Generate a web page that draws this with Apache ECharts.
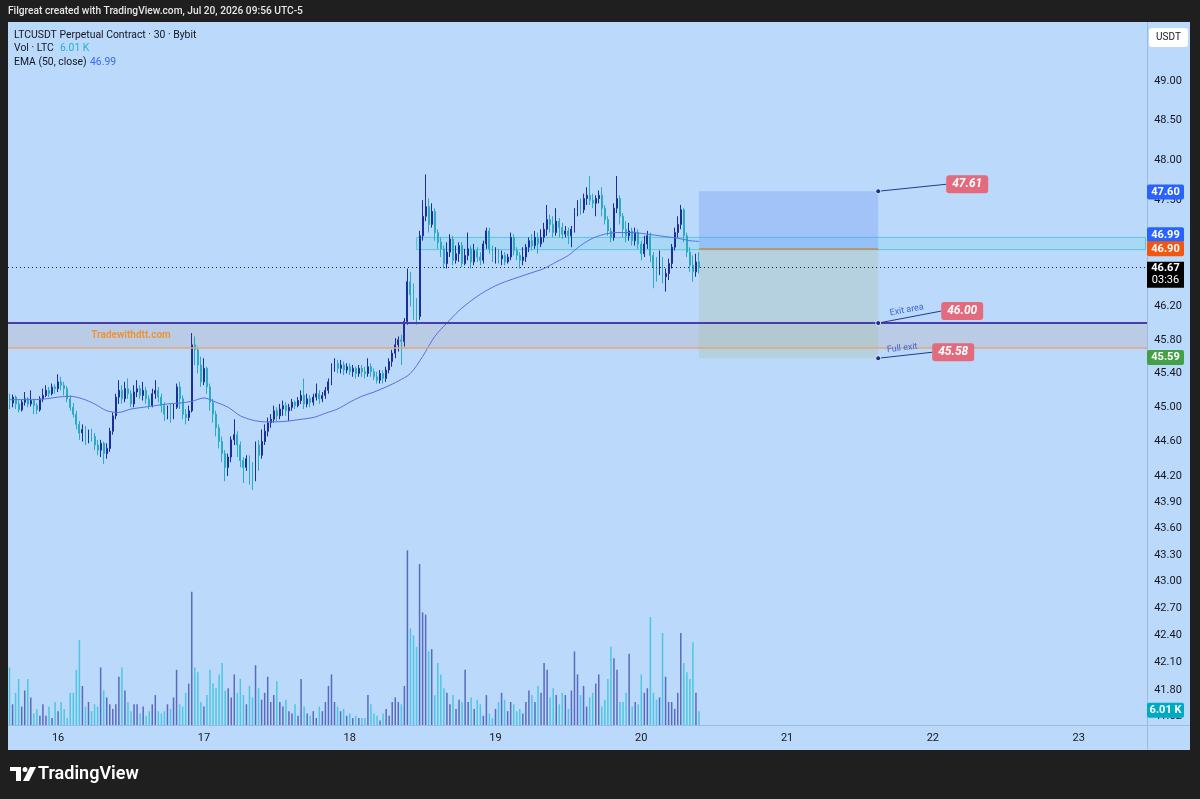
<!DOCTYPE html>
<html>
<head>
<meta charset="UTF-8">
<title>LTCUSDT Perpetual Contract 30 Bybit</title>
<script src="https://cdn.jsdelivr.net/npm/echarts@6/dist/echarts.min.js"></script>
<style>
html, body { margin: 0; padding: 0; background: #1f1f1f; }
#main { width: 1200px; height: 799px; }
</style>
</head>
<body>
<div id="main"></div>
<script>
// 30 minute bars, first bar Jul 15 16:00, last bar Jul 20 09:30
var firstBar = Date.UTC(2026, 6, 15, 16, 0);
var slotCount = 375; // bars + empty space on the right up to the 23rd

// [open, close, low, high]
var candles = [
  [45.10,45.05,44.98,45.16],[45.05,45.12,45.00,45.15],[45.12,45.04,44.98,45.14],[45.04,44.97,44.94,45.08],
  [44.97,45.06,44.95,45.09],[45.06,45.10,45.02,45.18],[45.10,45.04,45.00,45.12],[45.04,45.08,45.01,45.20],
  [45.08,45.02,44.92,45.10],[45.02,44.97,44.92,45.05],[44.97,45.10,44.95,45.13],[45.10,45.14,45.06,45.22],
  [45.14,45.20,45.12,45.26],[45.20,45.16,45.12,45.24],[45.16,45.24,45.14,45.28],[45.24,45.22,45.16,45.27],
  [45.22,45.30,45.18,45.39],[45.30,45.26,45.20,45.36],[45.26,45.22,45.14,45.30],[45.22,45.10,45.06,45.25],
  [45.10,45.00,44.96,45.14],[45.00,44.92,44.88,45.05],[44.92,44.80,44.74,44.96],[44.80,44.70,44.62,44.84],
  [44.70,44.74,44.60,44.80],[44.74,44.62,44.56,44.78],[44.62,44.70,44.58,44.74],[44.70,44.66,44.60,44.75],
  [44.66,44.56,44.50,44.70],[44.56,44.50,44.44,44.62],[44.50,44.58,44.42,44.62],[44.58,44.46,44.34,44.60],
  [44.46,44.52,44.40,44.58],[44.52,44.72,44.48,44.76],[44.72,44.90,44.68,44.94],[44.90,45.12,44.86,45.16],
  [45.12,45.20,45.04,45.32],[45.20,45.10,45.04,45.26],[45.10,45.22,45.06,45.30],[45.22,45.16,45.10,45.34],
  [45.16,45.04,45.00,45.20],[45.04,45.18,45.00,45.26],[45.18,45.22,45.12,45.32],[45.22,45.14,45.10,45.26],
  [45.14,45.20,45.08,45.30],[45.20,45.10,45.04,45.24],[45.10,45.02,44.98,45.14],[45.02,45.16,45.00,45.22],
  [45.16,45.20,45.10,45.32],[45.20,45.12,45.06,45.24],[45.12,45.02,44.94,45.16],[45.02,44.92,44.84,45.06],
  [44.92,44.98,44.86,45.02],[44.98,44.90,44.82,45.04],[44.90,45.00,44.86,45.04],[45.00,45.24,44.98,45.28],
  [45.24,45.10,44.98,45.30],[45.10,44.92,44.86,45.14],[44.92,44.88,44.80,44.98],[44.88,44.96,44.84,45.02],
  [44.96,45.74,44.94,45.88],[45.74,45.68,45.50,45.84],[45.68,45.50,45.40,45.72],[45.50,45.30,45.24,45.60],
  [45.30,45.46,45.26,45.58],[45.46,45.24,45.16,45.48],[45.24,45.06,44.96,45.28],[45.06,44.92,44.82,45.10],
  [44.92,44.76,44.66,44.96],[44.76,44.60,44.52,44.80],[44.60,44.46,44.36,44.66],[44.46,44.30,44.14,44.50],
  [44.30,44.42,44.20,44.46],[44.42,44.62,44.36,44.66],[44.62,44.68,44.56,44.86],[44.68,44.56,44.42,44.72],
  [44.56,44.38,44.30,44.60],[44.38,44.30,44.12,44.42],[44.30,44.40,44.26,44.44],[44.40,44.32,44.10,44.44],
  [44.32,44.20,44.04,44.36],[44.20,44.56,44.14,44.60],[44.56,44.44,44.26,44.62],[44.44,44.60,44.40,44.74],
  [44.60,44.72,44.56,44.80],[44.72,44.82,44.66,44.88],[44.82,44.86,44.76,44.92],[44.86,44.96,44.82,45.02],
  [44.96,44.90,44.84,45.00],[44.90,44.98,44.86,45.04],[44.98,45.02,44.90,45.08],[45.02,44.96,44.90,45.06],
  [44.96,45.00,44.84,45.04],[45.00,45.06,44.96,45.10],[45.06,45.02,44.98,45.08],[45.02,45.08,45.00,45.12],
  [45.08,45.14,45.04,45.20],[45.14,45.04,44.98,45.34],[45.04,45.10,45.00,45.16],[45.10,45.06,45.00,45.14],
  [45.06,45.12,45.02,45.16],[45.12,45.16,45.08,45.28],[45.16,45.10,45.04,45.20],[45.10,45.14,45.06,45.18],
  [45.14,45.20,45.10,45.24],[45.20,45.30,45.16,45.34],[45.30,45.48,45.26,45.52],[45.48,45.52,45.42,45.58],
  [45.52,45.46,45.40,45.56],[45.46,45.50,45.40,45.56],[45.50,45.44,45.38,45.54],[45.44,45.48,45.40,45.52],
  [45.48,45.42,45.38,45.52],[45.42,45.46,45.36,45.50],[45.46,45.40,45.34,45.48],[45.40,45.46,45.36,45.50],
  [45.46,45.42,45.36,45.50],[45.42,45.40,45.34,45.48],[45.40,45.48,45.36,45.58],[45.48,45.42,45.36,45.52],
  [45.42,45.36,45.32,45.46],[45.36,45.32,45.28,45.42],[45.32,45.40,45.28,45.44],[45.40,45.34,45.28,45.44],
  [45.34,45.44,45.30,45.48],[45.44,45.54,45.40,45.58],[45.54,45.64,45.48,45.68],[45.64,45.74,45.58,45.82],
  [45.74,45.80,45.66,45.84],[45.80,45.78,45.50,45.86],[45.78,46.02,45.72,46.06],[46.02,46.50,45.98,46.66],
  [46.50,46.34,46.20,46.62],[46.34,46.22,46.04,46.48],[46.22,46.08,45.98,46.30],[46.08,47.06,46.04,47.12],
  [47.06,47.30,47.00,47.50],[47.30,47.42,47.24,47.82],[47.42,47.20,47.10,47.52],[47.20,47.36,47.16,47.46],
  [47.36,47.10,47.00,47.40],[47.10,46.98,46.90,47.14],[46.98,46.90,46.80,47.04],[46.90,46.72,46.66,46.94],
  [46.72,46.86,46.66,46.98],[46.86,47.02,46.80,47.08],[47.02,46.76,46.70,47.06],[46.76,46.84,46.72,46.94],
  [46.84,46.94,46.74,46.98],[46.94,46.72,46.68,46.98],[46.72,46.82,46.70,46.90],[46.82,46.90,46.76,47.10],
  [46.90,46.74,46.66,46.94],[46.74,46.88,46.70,46.96],[46.88,46.80,46.74,46.92],[46.80,46.76,46.70,46.86],
  [46.76,46.96,46.72,47.00],[46.96,47.12,46.90,47.16],[47.12,46.90,46.84,47.16],[46.90,46.82,46.74,46.94],
  [46.82,46.86,46.72,46.92],[46.86,46.78,46.72,46.90],[46.78,46.82,46.70,46.88],[46.82,46.74,46.70,46.86],
  [46.74,46.80,46.72,46.84],[46.80,47.04,46.76,47.10],[47.04,46.88,46.82,47.08],[46.88,46.82,46.76,46.92],
  [46.82,46.76,46.66,46.86],[46.76,46.80,46.70,46.92],[46.80,46.92,46.74,46.96],[46.92,47.00,46.86,47.04],
  [47.00,46.94,46.88,47.08],[46.94,47.04,46.90,47.12],[47.04,46.96,46.84,47.10],[46.96,47.04,46.92,47.14],
  [47.04,47.14,46.98,47.22],[47.14,47.26,47.06,47.44],[47.26,47.20,47.10,47.32],[47.20,47.10,47.04,47.30],
  [47.10,47.24,47.06,47.40],[47.24,47.16,47.04,47.28],[47.16,47.08,47.02,47.22],[47.08,47.12,47.04,47.18],
  [47.12,47.06,46.96,47.16],[47.06,47.14,46.92,47.18],[47.14,47.36,47.10,47.40],[47.36,47.44,47.30,47.50],
  [47.44,47.38,47.32,47.52],[47.38,47.52,47.34,47.58],[47.52,47.56,47.44,47.66],[47.56,47.50,47.44,47.80],
  [47.50,47.46,47.40,47.58],[47.46,47.52,47.30,47.56],[47.52,47.56,47.46,47.62],[47.56,47.40,47.30,47.66],
  [47.40,47.26,47.20,47.44],[47.26,47.12,47.06,47.30],[47.12,47.04,46.98,47.16],[47.04,47.40,47.00,47.46],
  [47.40,47.52,47.34,47.80],[47.52,47.30,47.20,47.56],[47.30,47.14,47.04,47.34],[47.14,47.06,46.98,47.24],
  [47.06,47.12,47.00,47.22],[47.12,47.00,46.94,47.16],[47.00,47.10,46.94,47.16],[47.10,46.96,46.90,47.14],
  [46.96,46.84,46.76,47.00],[46.84,46.96,46.80,47.06],[46.96,47.06,46.90,47.12],[47.06,46.82,46.74,47.10],
  [46.82,46.68,46.42,46.86],[46.68,46.62,46.50,46.80],[46.62,46.76,46.58,46.88],[46.76,46.56,46.48,46.80],
  [46.56,46.60,46.38,46.66],[46.60,46.72,46.52,46.78],[46.72,46.92,46.66,46.96],[46.92,47.10,46.88,47.16],
  [47.10,47.20,47.04,47.30],[47.20,47.38,47.14,47.44],[47.38,47.06,46.98,47.40],[47.06,46.86,46.80,47.10],
  [46.86,46.70,46.62,46.92],[46.70,46.62,46.50,46.82],[46.62,46.74,46.56,46.84],[46.74,46.67,46.60,46.86]
];

// volume in thousands of LTC
var volumes = [
  25,9,14,20,8,15,20,12,5,7,4,9,4,8,3,10,6,10,7,3,14,14,24,37,17,8,10,6,9,8,
  25,15,12,9,7,9,21,25,15,10,6,9,9,5,8,4,6,9,13,6,5,6,9,7,12,24,9,8,14,18,
  58,25,23,10,8,13,24,18,16,22,27,15,16,12,22,14,20,13,9,17,12,26,16,11,14,21,10,13,19,10,
  8,11,6,5,9,4,20,8,5,4,6,3,8,6,10,17,22,10,8,6,7,4,5,3,4,3,3,3,13,9,
  5,4,2,5,7,4,10,12,10,9,17,76,42,39,34,70,49,48,32,33,13,27,22,16,14,9,13,7,11,10,
  24,10,12,7,11,9,4,13,5,3,7,10,14,11,6,10,9,6,7,5,10,15,13,10,17,14,27,24,12,16,
  13,9,14,13,7,15,32,22,13,17,8,12,14,18,22,8,11,20,34,29,24,10,10,14,31,8,10,9,22,14,
  16,47,14,11,12,40,21,10,10,7,14,40,27,23,20,36,14,6.01
];

// EMA(50, close) every few bars
var emaBars = [0,4,8,12,16,20,24,28,32,36,40,44,48,52,56,60,64,68,72,76,80,84,88,92,96,100,104,108,112,116,
  120,124,128,132,136,140,144,148,152,156,160,164,168,172,176,180,184,188,192,196,200,204,208,212,216,220,224,227];
var emaValues = [45.09,45.09,45.09,45.10,45.12,45.13,45.10,45.04,44.96,44.94,44.98,45.00,45.02,45.04,45.05,45.07,45.11,45.06,45.00,44.90,
  44.85,44.83,44.83,44.84,44.86,44.88,44.93,44.98,45.06,45.13,45.18,45.24,45.31,45.40,45.60,45.84,46.00,46.15,46.27,46.37,
  46.45,46.51,46.56,46.61,46.66,46.74,46.82,46.94,47.03,47.08,47.10,47.10,47.09,47.07,47.05,47.03,47.00,46.99];

var priceTicks = [49.00,48.50,48.00,47.50,47.00,46.50,46.20,45.80,45.40,45.00,44.60,44.20,43.90,43.60,43.30,43.00,42.70,42.40,42.10,41.80,41.52];

// drawings
var exitLevel = 46.00;
var fullExitLine = 45.71;
var lastPrice = 46.67;
var zoneBox = [134, 47.04, 46.89];     // start bar, top, bottom
var position = { from: 227, to: 286, target: 47.61, entry: 46.90, stop: 45.58 };
var notePrices = [47.61, 46.00, 45.58];
var noteTexts = ['', 'Exit area', 'Full exit'];

var categories = [];
for (var i = 0; i < slotCount; i++) {
  var d = new Date(firstBar + i * 1800000);
  categories.push(d.toISOString().slice(0, 16).replace('T', ' '));
}

var upColor = '#1b2f9c', downColor = '#2aabc2';
var volData = volumes.map(function (v, i) {
  var up = candles[i][1] >= candles[i][0];
  return { value: v, itemStyle: { color: up ? '#5a69c0' : '#4cc6e2' } };
});
var emaData = emaBars.map(function (b, i) { return [b, emaValues[i]]; });

var chart = echarts.init(document.getElementById('main'));
var font = 'Roboto, "Noto Sans", sans-serif';

chart.setOption({
  animation: false,
  backgroundColor: '#1f1f1f',
  textStyle: { fontFamily: font },
  grid: [
    { left: 8, top: 22, width: 1139, height: 703 },
    { left: 8, top: 548, width: 1139, height: 177 }
  ],
  xAxis: [
    {
      type: 'category', gridIndex: 0, data: categories, boundaryGap: true,
      axisLine: { show: false }, axisTick: { show: false }, splitLine: { show: false },
      axisLabel: {
        color: '#131722', fontSize: 11, margin: 8,
        interval: function (idx, v) { return v.slice(11) === '00:00'; },
        formatter: function (v) { return String(parseInt(v.slice(8, 10), 10)); }
      }
    },
    { type: 'category', gridIndex: 1, data: categories, boundaryGap: true, show: false }
  ],
  yAxis: [
    {
      type: 'log', gridIndex: 0, min: 41.42, max: 49.76, position: 'right',
      axisLine: { show: false }, axisTick: { show: false }, axisLabel: { show: false }, splitLine: { show: false }
    },
    { type: 'value', gridIndex: 1, min: 0, max: 77, show: false, splitLine: { show: false } }
  ],
  series: [
    {
      type: 'bar', xAxisIndex: 1, yAxisIndex: 1, data: volData, barWidth: 1.5, z: 1
    },
    {
      type: 'candlestick', xAxisIndex: 0, yAxisIndex: 0, data: candles, barWidth: 1.4,
      itemStyle: { color: upColor, color0: downColor, borderColor: upColor, borderColor0: downColor, borderWidth: 1 }
    },
    {
      type: 'line', xAxisIndex: 0, yAxisIndex: 0, data: emaData, symbol: 'none', smooth: 0.3,
      lineStyle: { color: '#5570e6', width: 1 }, z: 3,
      markArea: {
        silent: true,
        data: [
          [{ yAxis: exitLevel, itemStyle: { color: 'rgba(185,180,190,0.35)' } }, { yAxis: fullExitLine }],
          [{ coord: [zoneBox[0], zoneBox[1]], itemStyle: { color: 'rgba(110,215,235,0.25)', borderColor: '#58c6dc', borderWidth: 1 } },
           { coord: [slotCount - 1, zoneBox[2]] }],
          [{ coord: [position.from, position.target], itemStyle: { color: 'rgba(105,150,245,0.32)' } },
           { coord: [position.to, position.entry] }],
          [{ coord: [position.from, position.entry], itemStyle: { color: 'rgba(170,195,180,0.38)' } },
           { coord: [position.to, position.stop] }]
        ]
      },
      markLine: {
        silent: true, symbol: ['none', 'none'], label: { show: false },
        data: [
          { yAxis: exitLevel, lineStyle: { color: '#4b3da8', width: 2, type: 'solid' } },
          { yAxis: fullExitLine, lineStyle: { color: '#e2a67a', width: 1.5, type: 'solid' } },
          { yAxis: lastPrice, lineStyle: { color: '#1c2130', width: 1, type: [1, 3] } },
          [{ coord: [position.from, position.entry], lineStyle: { color: '#c08a55', width: 1.5, type: 'solid' } },
           { coord: [position.to, position.entry] }]
        ]
      }
    }
  ]
});

function px(bar, price) { return chart.convertToPixel({ gridIndex: 0 }, [bar, price]); }
function yOf(price) { return px(0, price)[1]; }

var g = [];
// pane background, axis separators
g.push({ type: 'rect', z: 0, shape: { x: 8, y: 22, width: 1182, height: 728 }, style: { fill: '#bbd9fa' } });
g.push({ type: 'line', z: 0, shape: { x1: 1147.5, y1: 22, x2: 1147.5, y2: 750 }, style: { stroke: '#9dbbdc', lineWidth: 1 } });
g.push({ type: 'line', z: 0, shape: { x1: 8, y1: 725.5, x2: 1190, y2: 725.5 }, style: { stroke: '#9dbbdc', lineWidth: 1 } });

// header and legend
var small = '10.4px ' + font;
g.push({ type: 'text', z: 60, x: 8, y: 11, style: { text: 'Filgreat created with TradingView.com, Jul 20, 2026 09:56 UTC-5', fill: '#e6e6e6', font: '500 10.2px ' + font, textVerticalAlign: 'middle' } });
g.push({ type: 'text', z: 60, x: 14, y: 35, style: { text: 'LTCUSDT Perpetual Contract · 30 · Bybit', fill: '#131722', font: small, textVerticalAlign: 'middle' } });
g.push({ type: 'text', z: 60, x: 14, y: 48, style: { text: 'Vol · LTC', fill: '#131722', font: small, textVerticalAlign: 'middle' } });
g.push({ type: 'text', z: 60, x: 60, y: 48, style: { text: '6.01 K', fill: '#22b3c9', font: small, textVerticalAlign: 'middle' } });
g.push({ type: 'text', z: 60, x: 14, y: 62, style: { text: 'EMA (50, close)', fill: '#131722', font: small, textVerticalAlign: 'middle' } });
g.push({ type: 'text', z: 60, x: 90, y: 62, style: { text: '46.99', fill: '#3c68f0', font: small, textVerticalAlign: 'middle' } });
g.push({ type: 'text', z: 60, x: 131, y: (yOf(exitLevel) + yOf(fullExitLine)) / 2, style: { text: 'Tradewithdtt.com', fill: '#ee9438', font: 'bold 10px ' + font, textAlign: 'center', textVerticalAlign: 'middle' } });

// USDT button
g.push({ type: 'rect', z: 60, shape: { x: 1149, y: 28, width: 39, height: 19, r: 3 }, style: { fill: '#ffffff' } });
g.push({ type: 'text', z: 61, x: 1168.5, y: 37.5, style: { text: 'USDT', fill: '#131722', font: '10px ' + font, textAlign: 'center', textVerticalAlign: 'middle' } });

// price scale ticks
priceTicks.forEach(function (t) {
  g.push({ type: 'text', z: 50, x: 1168, y: yOf(t), style: { text: t.toFixed(2), fill: '#131722', font: '11px ' + font, textAlign: 'center', textVerticalAlign: 'middle' } });
});

// price scale tags (TradingView pushes overlapping tags apart)
function tag(y, text, color) {
  g.push({ type: 'rect', z: 70, shape: { x: 1147, y: y - 7.5, width: 37, height: 15, r: 2 }, style: { fill: color } });
  g.push({ type: 'text', z: 71, x: 1165.5, y: y, style: { text: text, fill: '#ffffff', font: 'bold 11px ' + font, textAlign: 'center', textVerticalAlign: 'middle' } });
}
var entryY = yOf(46.90);
tag(yOf(47.60), '47.60', '#2962ff');
tag(Math.min(yOf(46.99), entryY - 14), '46.99', '#2962ff');
tag(entryY, '46.90', '#f25712');
tag(yOf(45.59), '45.59', '#43a047');
var lpY = yOf(lastPrice);
g.push({ type: 'rect', z: 70, shape: { x: 1147, y: lpY - 6, width: 37, height: 26 }, style: { fill: '#000000' } });
g.push({ type: 'text', z: 71, x: 1165.5, y: lpY + 1, style: { text: '46.67', fill: '#ffffff', font: 'bold 11px ' + font, textAlign: 'center', textVerticalAlign: 'middle' } });
g.push({ type: 'text', z: 71, x: 1165.5, y: lpY + 13, style: { text: '03:36', fill: '#ffffff', font: '11px ' + font, textAlign: 'center', textVerticalAlign: 'middle' } });
var volY = chart.convertToPixel({ gridIndex: 1 }, [227, volumes[227]])[1];
tag(volY - 1, '6.01 K', '#00a9c4');

// price notes on the position tool
var noteOffsets = [[68, -7], [63, -12], [54, -6]];
notePrices.forEach(function (p, k) {
  var a = px(position.to, p);
  var bx = a[0] + noteOffsets[k][0], by = a[1] + noteOffsets[k][1];
  g.push({ type: 'line', z: 65, shape: { x1: a[0], y1: a[1], x2: bx, y2: by }, style: { stroke: '#233a8f', lineWidth: 1 } });
  g.push({ type: 'circle', z: 66, shape: { cx: a[0], cy: a[1], r: 2.5 }, style: { fill: '#1c2f88', stroke: '#ffffff', lineWidth: 0.8 } });
  g.push({ type: 'rect', z: 66, shape: { x: bx, y: by - 9, width: 42, height: 18, r: 3 }, style: { fill: '#e26b7e' } });
  g.push({ type: 'text', z: 67, x: bx + 21, y: by, style: { text: p.toFixed(2), fill: '#ffffff', font: 'italic bold 12px ' + font, textAlign: 'center', textVerticalAlign: 'middle' } });
  if (noteTexts[k]) {
    var ang = Math.atan2(a[1] - by, bx - a[0]);
    var mx = (a[0] + bx) / 2 - 3, my = (a[1] + by) / 2 - 7;
    g.push({ type: 'text', z: 67, x: mx, y: my, rotation: ang, style: { text: noteTexts[k], fill: '#3f66d8', font: '9px ' + font, textAlign: 'center', textVerticalAlign: 'middle' } });
  }
});

// TradingView logo
g.push({ type: 'rect', z: 60, shape: { x: 10, y: 767, width: 11, height: 4 }, style: { fill: '#ffffff' } });
g.push({ type: 'rect', z: 60, shape: { x: 16, y: 767, width: 5, height: 14 }, style: { fill: '#ffffff' } });
g.push({ type: 'circle', z: 60, shape: { cx: 25, cy: 769.5, r: 2.5 }, style: { fill: '#ffffff' } });
g.push({ type: 'polygon', z: 60, shape: { points: [[30, 767], [36, 767], [29, 781], [23, 781]] }, style: { fill: '#ffffff' } });
g.push({ type: 'text', z: 60, x: 38, y: 774, style: { text: 'TradingView', fill: '#ffffff', font: '600 18px ' + font, textVerticalAlign: 'middle' } });

chart.setOption({ graphic: { elements: g } });
</script>
</body>
</html>
